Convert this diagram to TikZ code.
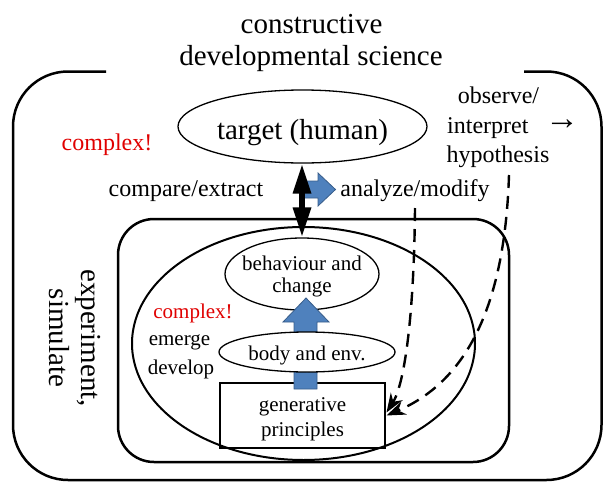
\documentclass[tikz,border=0pt]{standalone}
\usepackage{fontspec}
\setmainfont{Liberation Serif}
\usetikzlibrary{arrows.meta,shapes.geometric}
\definecolor{bluefill}{HTML}{4F81BD}
\definecolor{blueline}{HTML}{385D8A}
\definecolor{redtxt}{HTML}{E00000}
\begin{document}
\begin{tikzpicture}[x=1pt,y=-1pt,
  txt/.style={inner sep=0pt,anchor=base},
  big/.style={font=\fontsize{29}{32}\selectfont},
  mid/.style={font=\fontsize{24}{29}\selectfont},
  small/.style={font=\fontsize{21}{26}\selectfont},
  ell/.style={draw,ellipse,inner sep=0pt,line width=1.3pt},
  blockarrow/.style={fill=bluefill,draw=blueline,line width=0.8pt},
  dasharrow/.style={line width=2.4pt,dash pattern=on 13pt off 8pt,-{Stealth[length=19pt,width=14pt]}}]
\useasboundingbox (0,0) rectangle (603,482);
% title
\node[txt,big] (t1) at (311.5,33) {constructive};
\node[txt,big] (t2) at (311,65) {developmental science};
% outer frame with gap
\draw[line width=2.5pt,rounded corners=55pt] (106,71.5) -- (13,71.5) -- (13,480) -- (601.5,480) -- (601.5,71.5) -- (524,71.5);
% inner frame
\draw[line width=2.5pt,rounded corners=36pt] (118,219) rectangle (509,462);
% target ellipse
\node[ell,minimum width=249pt,minimum height=73pt] (target) at (302.5,126.5) {};
\node[txt,big] (targett) at (302.5,139) {target (human)};
% big ellipse
\node[ell,line width=2pt,minimum width=343pt,minimum height=233pt] (bigell) at (303.5,343.5) {};
% behaviour ellipse
\node[ell,minimum width=154pt,minimum height=72pt] (beh) at (302,274) {};
\node[txt,small] (beh1) at (302,270) {behaviour and};
\node[txt,small] (beh2) at (302,292.5) {change};
% box
\node[draw,minimum width=165pt,minimum height=65pt,line width=1.2pt,inner sep=0pt] (gen) at (302.5,415.5) {};
\node[txt,small] (gen1) at (302.5,411) {generative};
\node[txt,small] (gen2) at (302.5,436) {principles};
% blue arrow up (under the body ellipse)
\draw[blockarrow] (294,389) -- (294,322) -- (283,322) -- (306,298) -- (329,322) -- (317,322) -- (317,389) -- cycle;
\node[ell,fill=white,minimum width=176pt,minimum height=40pt] (body) at (307,352) {};
\node[txt,small] (bodyt) at (307,360) {body and env.};
% blue arrow right
\draw[blockarrow] (302,181) -- (318,181) -- (318,173) -- (335.5,189.5) -- (318,206) -- (318,198) -- (302,198) -- cycle;
% double arrow
\coordinate (dtop) at (302,163.5);
\draw[line width=6pt,{Triangle[length=30pt,width=17pt]}-{Triangle[length=30pt,width=17pt]}] (dtop) -- (beh.north);
% texts
\node[txt,mid,text=redtxt] (cx1) at (107,150) {complex!};
\node[txt,mid] (cmp) at (186,196) {compare/extract};
\node[txt,mid] (ana) at (415,196) {analyze/modify};
\node[txt,mid] (obs1) at (498.5,103) {observe/};
\node[txt,mid,anchor=base west] (obs2) at (447,133) {interpret};
\node[txt,mid] (obs3) at (498,162) {hypothesis};
\node[inner sep=0pt,font=\fontsize{34}{34}\selectfont] (arr) at (562,125) {→};
\node[txt,small,text=redtxt] (cx2) at (193,318) {complex!};
\node[txt,small] (emg1) at (179.5,345) {emerge};
\node[txt,small] (emg2) at (181,374) {develop};
\node[inner sep=0pt,align=center,font=\fontsize{29}{32}\selectfont,rotate=-90] (exp) at (75,338) {experiment,\\simulate};
% dashed arrows
\coordinate (d1) at (415,208);
\coordinate (d2) at (509,175);
\coordinate (e1) at (386.5,412.5);
\coordinate (e2) at (386.5,415.5);
\draw[dasharrow] (d1) .. controls (414,320) and (404,385) .. (e1);
\draw[dasharrow] (d2) .. controls (505,300) and (470,380) .. (e2);
\end{tikzpicture}
\end{document}
